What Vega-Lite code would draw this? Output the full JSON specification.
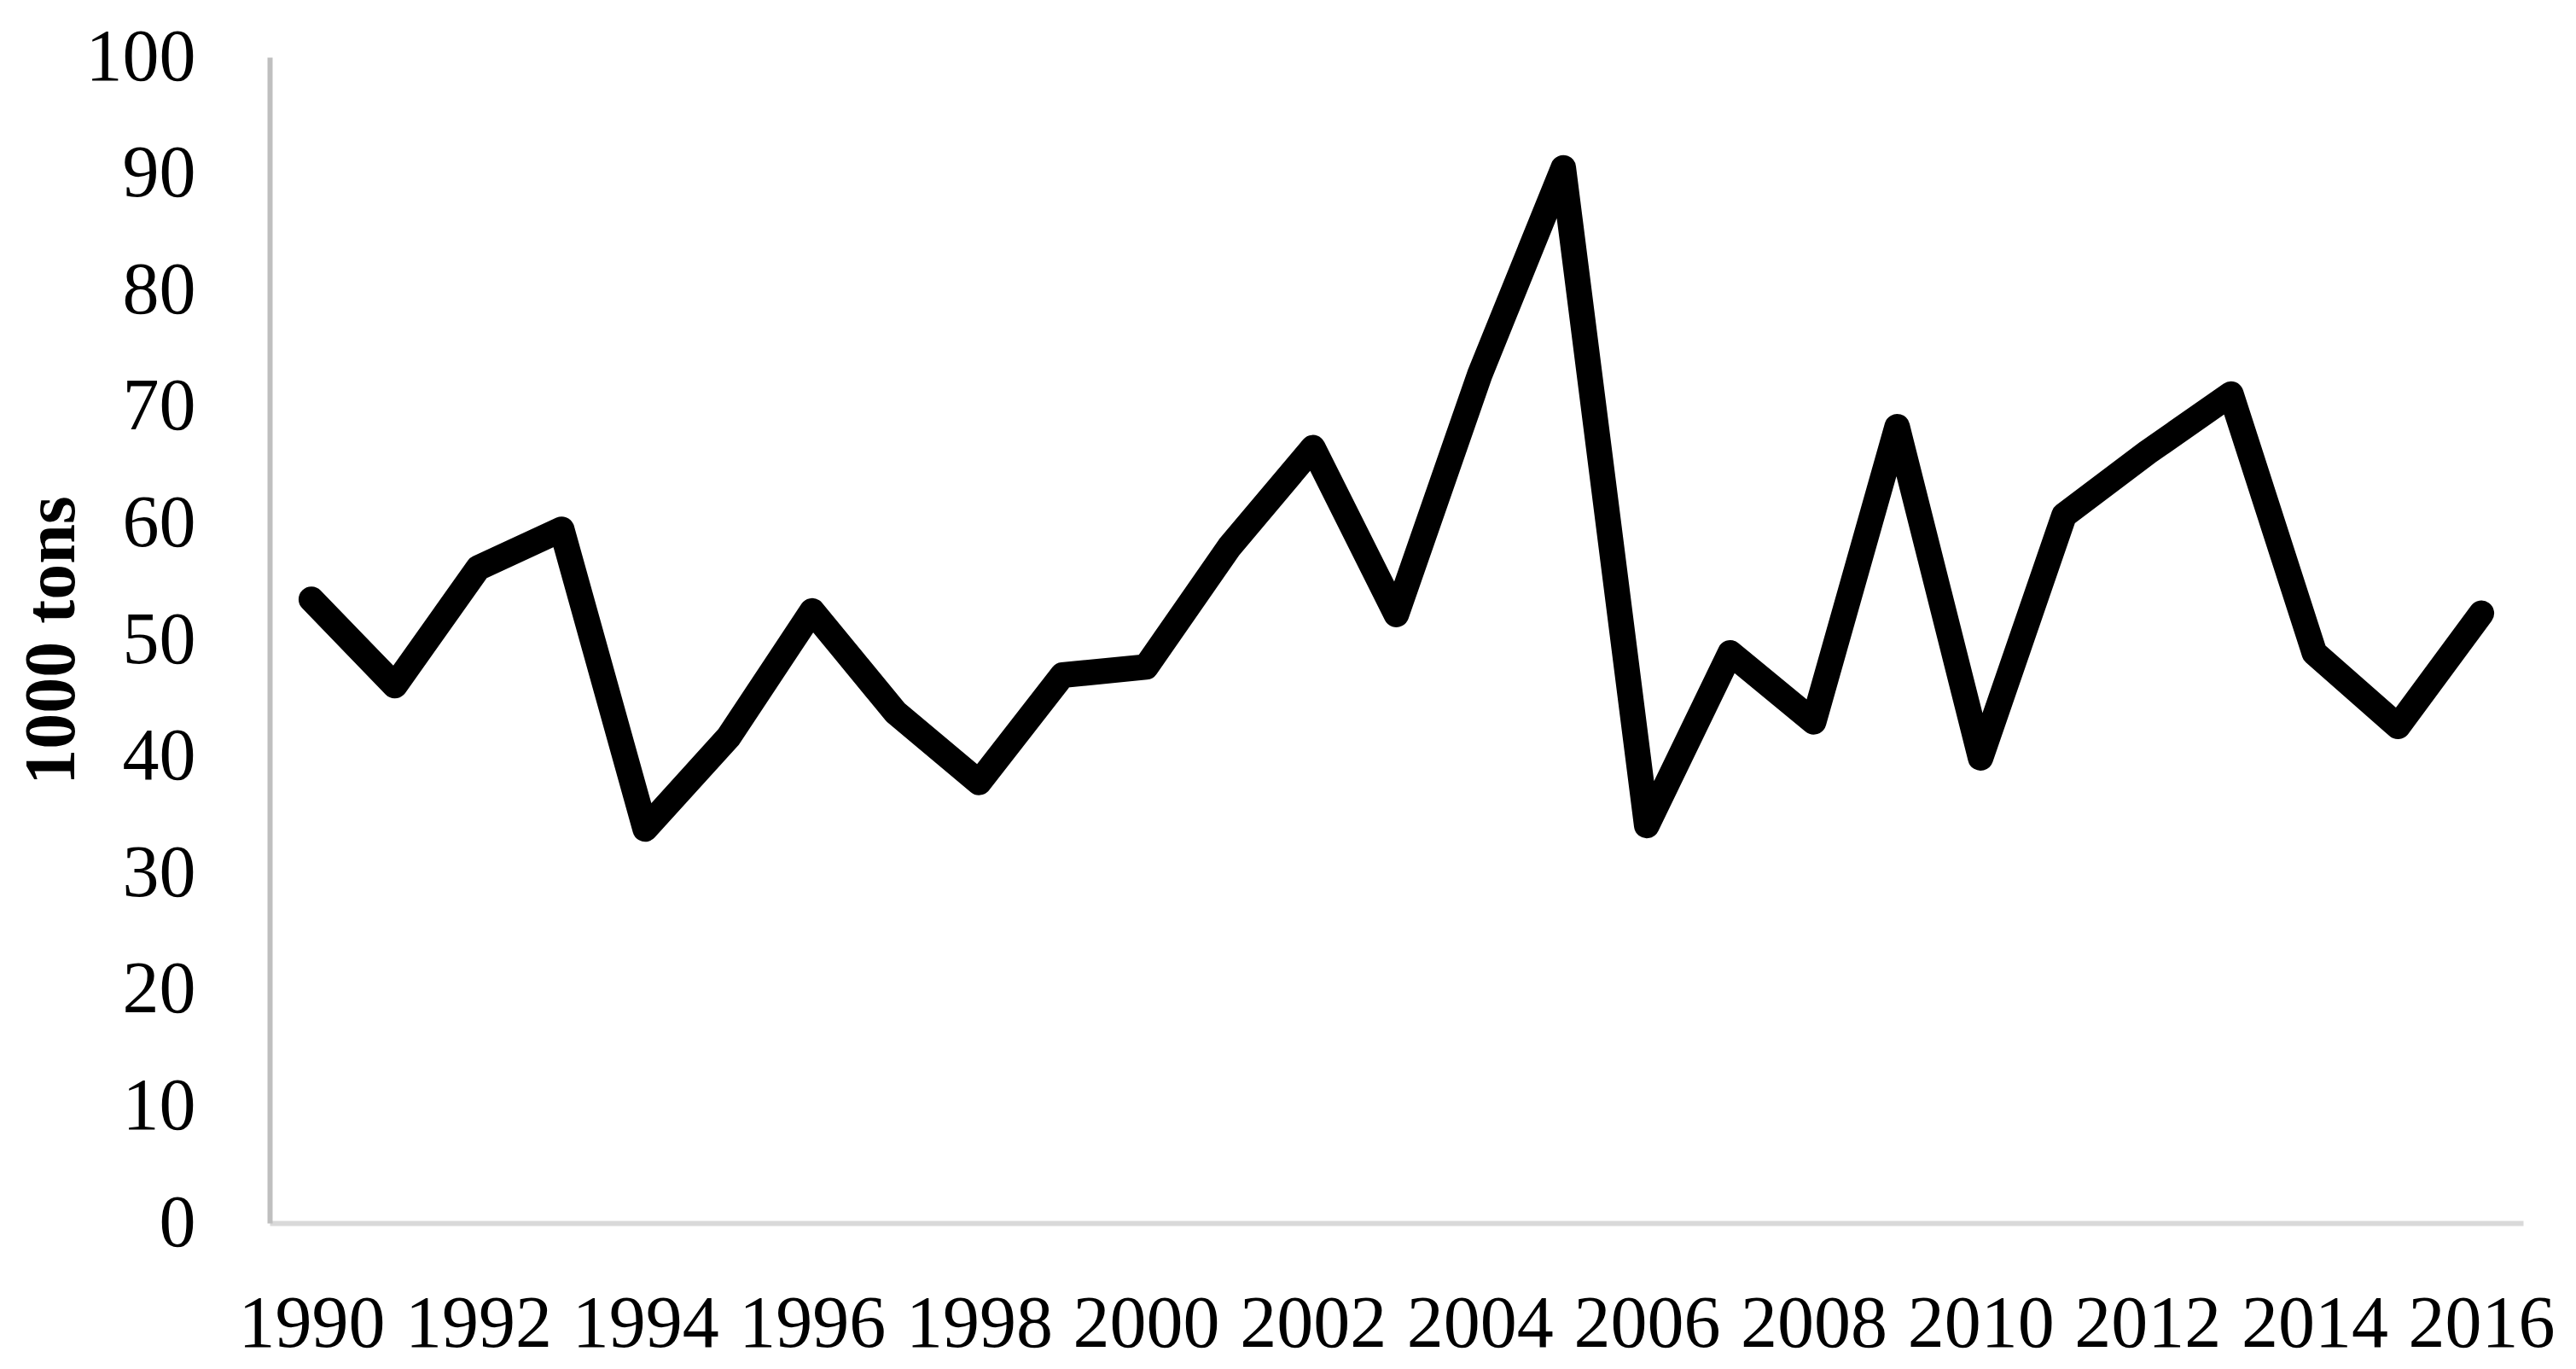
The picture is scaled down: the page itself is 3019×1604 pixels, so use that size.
{
  "$schema": "https://vega.github.io/schema/vega-lite/v6.json",
  "width": 2641,
  "height": 1366,
  "autosize": {"type": "none"},
  "padding": {"left": 316, "top": 67, "right": 62, "bottom": 171},
  "background": "white",
  "data": {
    "values": [
      {"Year": 1990, "Tons": 53.5},
      {"Year": 1991, "Tons": 46.1},
      {"Year": 1992, "Tons": 56.2},
      {"Year": 1993, "Tons": 59.5},
      {"Year": 1994, "Tons": 33.8},
      {"Year": 1995, "Tons": 41.7},
      {"Year": 1996, "Tons": 52.5},
      {"Year": 1997, "Tons": 43.8},
      {"Year": 1998, "Tons": 37.8},
      {"Year": 1999, "Tons": 47.0},
      {"Year": 2000, "Tons": 47.7},
      {"Year": 2001, "Tons": 58.0},
      {"Year": 2002, "Tons": 66.5},
      {"Year": 2003, "Tons": 52.2},
      {"Year": 2004, "Tons": 72.8},
      {"Year": 2005, "Tons": 90.5},
      {"Year": 2006, "Tons": 34.1},
      {"Year": 2007, "Tons": 48.9},
      {"Year": 2008, "Tons": 43.0},
      {"Year": 2009, "Tons": 68.3},
      {"Year": 2010, "Tons": 39.9},
      {"Year": 2011, "Tons": 60.7},
      {"Year": 2012, "Tons": 66.1},
      {"Year": 2013, "Tons": 71.1},
      {"Year": 2014, "Tons": 48.9},
      {"Year": 2015, "Tons": 42.6},
      {"Year": 2016, "Tons": 52.3}
    ]
  },
  "mark": {"type": "line", "color": "black", "strokeWidth": 30, "strokeJoin": "round", "strokeCap": "round"},
  "encoding": {
    "x": {
      "field": "Year",
      "type": "ordinal",
      "scale": {"type": "point", "padding": 0.5},
      "axis": {
        "title": null,
        "values": [1990, 1992, 1994, 1996, 1998, 2000, 2002, 2004, 2006, 2008, 2010, 2012, 2014, 2016],
        "labelAngle": 0,
        "ticks": false,
        "domainColor": "#d9d9d9",
        "domainWidth": 6,
        "labelFont": "Liberation Serif",
        "labelFontSize": 86,
        "labelColor": "black",
        "labelPadding": 76,
        "labelOverlap": false,
        "labelFlush": false
      }
    },
    "y": {
      "field": "Tons",
      "type": "quantitative",
      "scale": {"domain": [0, 100], "nice": false},
      "axis": {
        "title": "1000 tons",
        "titleFont": "Liberation Serif",
        "titleFontSize": 84,
        "titleFontWeight": "bold",
        "titleColor": "black",
        "titlePadding": 12,
        "values": [0, 10, 20, 30, 40, 50, 60, 70, 80, 90, 100],
        "grid": false,
        "ticks": false,
        "domainColor": "#bfbfbf",
        "domainWidth": 6,
        "labelFont": "Liberation Serif",
        "labelFontSize": 86,
        "labelColor": "black",
        "labelPadding": 87,
        "labelFlush": false
      }
    }
  },
  "config": {"view": {"stroke": null}}
}
